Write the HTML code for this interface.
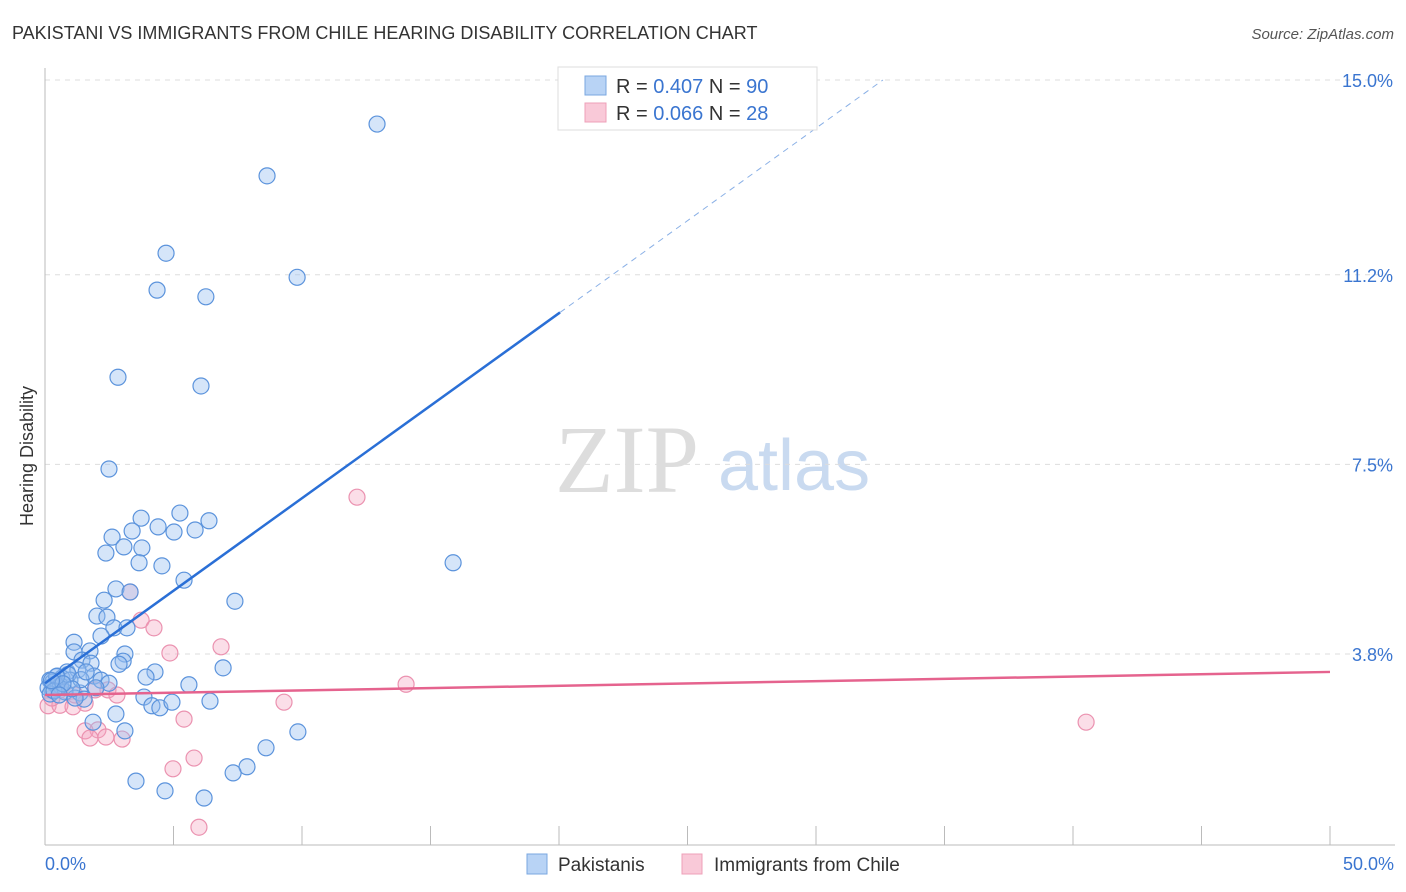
<!DOCTYPE html>
<html><head><meta charset="utf-8"><style>
body{margin:0;background:#fff;font-family:"Liberation Sans",sans-serif;}
svg{display:block}
</style></head><body>
<svg id="chart" width="1406" height="892" xmlns="http://www.w3.org/2000/svg">
<text x="12" y="39" font-size="18" fill="#333">PAKISTANI VS IMMIGRANTS FROM CHILE HEARING DISABILITY CORRELATION CHART</text>
<text x="1394" y="39" font-size="15" fill="#555" font-style="italic" text-anchor="end">Source: ZipAtlas.com</text>
<g>
<text x="555" y="492" font-size="96" font-family="Liberation Serif,serif" fill="#ddd">ZIP</text>
<text x="718" y="490" font-size="72" fill="#c9daf0">atlas</text>
</g>
<g id="grid"></g>
<g id="axes"></g>
<text x="33" y="456" font-size="18" fill="#333" text-anchor="middle" transform="rotate(-90 33 456)">Hearing Disability</text>
<g id="marks"></g>
<g>
<rect x="558" y="67" width="259" height="63" fill="#fff" stroke="#ddd"/>
<rect x="585" y="76" width="21" height="19" fill="#b8d3f5" stroke="#7aa7e0"/>
<rect x="585" y="103" width="21" height="19" fill="#f9c9d8" stroke="#eea0b8"/>
<text x="616" y="93" font-size="20" fill="#333">R = <tspan fill="#3a75d0">0.407</tspan>   N = <tspan fill="#3a75d0">90</tspan></text>
<text x="616" y="120" font-size="20" fill="#333">R = <tspan fill="#3a75d0">0.066</tspan>   N =  <tspan fill="#3a75d0">28</tspan></text>
</g>
<g>
<rect x="527" y="854" width="20" height="20" fill="#b8d3f5" stroke="#7aa7e0"/>
<text x="558" y="871" font-size="19" fill="#333">Pakistanis</text>
<rect x="682" y="854" width="20" height="20" fill="#f9c9d8" stroke="#eea0b8"/>
<text x="714" y="871" font-size="19" fill="#333">Immigrants from Chile</text>
</g>
</svg>
<script>
const yTicks=[3.8,7.5,11.2,15.0];
const yTickLabels=["3.8%","7.5%","11.2%","15.0%"];
const xTickLabels=["0.0%","50.0%"];
const blueX=[12.92,8.64,4.71,9.81,4.36,6.26,2.84,6.07,2.49,15.88,7.39,3.74,5.25,6.38,3.39,4.40,5.02,5.84,2.61,3.07,3.77,2.37,3.66,4.55,5.41,2.76,3.31,2.30,2.02,2.41,2.68,3.19,2.18,1.13,1.13,1.75,3.11,3.04,2.88,1.44,1.79,0.86,0.47,0.19,0.39,0.66,1.28,1.91,2.18,4.28,3.93,6.93,2.49,5.60,1.98,1.36,1.52,3.85,4.16,4.47,4.94,6.42,2.76,1.87,3.11,9.84,8.60,7.86,7.32,3.54,4.67,6.19,0.27,0.12,0.51,0.97,0.78,1.17,0.30,0.60,0.90,1.40,0.20,0.45,1.05,0.35,0.70,1.60,0.25,0.55];
const blueY=[14.14,13.13,11.62,11.15,10.90,10.77,9.20,9.03,7.41,5.58,4.83,6.45,6.55,6.40,6.20,6.28,6.18,6.22,6.08,5.89,5.87,5.77,5.58,5.52,5.24,5.07,5.01,4.85,4.54,4.52,4.31,4.31,4.15,4.03,3.84,3.86,3.80,3.66,3.60,3.68,3.62,3.45,3.37,3.29,3.21,3.33,3.49,3.37,3.29,3.45,3.35,3.53,3.23,3.20,3.14,3.04,2.92,2.96,2.79,2.75,2.86,2.88,2.63,2.47,2.30,2.28,1.97,1.60,1.48,1.32,1.13,0.99,3.10,3.14,3.14,3.29,3.06,2.94,3.25,3.18,3.40,3.30,3.02,3.36,3.12,3.08,3.22,3.45,3.28,3.00];
const pinkX=[12.14,3.31,3.74,4.24,6.85,4.86,2.45,1.95,2.80,14.05,9.30,0.12,0.58,1.09,1.56,2.06,1.56,1.75,2.37,3.00,5.41,40.51,5.80,4.98,5.99,0.58,0.27,1.17];
const pinkY=[6.86,5.01,4.46,4.31,3.94,3.82,3.10,3.10,3.00,3.21,2.86,2.79,2.80,2.77,2.84,2.32,2.30,2.16,2.18,2.14,2.53,2.47,1.77,1.56,0.42,3.10,2.94,3.00];
const blueLine=[3.23,0.361]; // intercept, slope
const pinkLine=[3.0,0.009];
const X0=45,X1=1330,XMAX=50;
const sx=v=>X0+v*(X1-X0)/XMAX;
const sy=v=>80+(15-v)*51.25;
const NS="http://www.w3.org/2000/svg";
function mk(tag,attrs,parent){const e=document.createElementNS(NS,tag);for(const k in attrs)e.setAttribute(k,attrs[k]);parent.appendChild(e);return e;}
const grid=document.getElementById('grid'),axes=document.getElementById('axes'),marks=document.getElementById('marks');
yTicks.forEach((t,i)=>{
 const l=mk('line',{x1:45,x2:1395,y1:sy(t),y2:sy(t),stroke:'#ddd','stroke-dasharray':'5,5'},grid);
 
 
 const tx=mk('text',{x:1393,y:sy(t)+7,'font-size':18,fill:'#3a75d0','text-anchor':'end'},axes);
 tx.textContent=yTickLabels[i];
 
 
});
const ax=mk('line',{x1:45,x2:1395,y1:845,y2:845,stroke:'#bbb'},axes);


const ay=mk('line',{x1:45,x2:45,y1:68,y2:845,stroke:'#bbb'},axes);


for(let i=0;i<=10;i++){
 const t=mk('line',{x1:sx(i*5),x2:sx(i*5),y1:826,y2:845,stroke:'#bbb'},axes);
 
 
}
[[0,'start',45],[XMAX,'end',1394]].forEach((p,i)=>{
 const t=mk('text',{x:p[2],y:870,'font-size':18,fill:'#3a75d0','text-anchor':p[1]},axes);
 t.textContent=xTickLabels[i];
 
 
});
pinkX.forEach((x,i)=>{
 const c=mk('circle',{cx:sx(x),cy:sy(pinkY[i]),r:8,fill:'rgba(244,160,188,0.35)',stroke:'#eb92b0','stroke-width':1.2},marks);
 
 
});
blueX.forEach((x,i)=>{
 const c=mk('circle',{cx:sx(x),cy:sy(blueY[i]),r:8,fill:'rgba(150,190,240,0.4)',stroke:'#5b93dc','stroke-width':1.2},marks);
 
 
});
const bx2=20.04,bxEnd=(15-blueLine[0])/blueLine[1];
const bl=mk('line',{x1:sx(0),y1:sy(blueLine[0]),x2:sx(bx2),y2:sy(blueLine[0]+blueLine[1]*bx2),stroke:'#2a6fd6','stroke-width':2.5},marks);


const bd=mk('line',{x1:sx(bx2),y1:sy(blueLine[0]+blueLine[1]*bx2),x2:sx(bxEnd),y2:sy(15),stroke:'#8ab0e6','stroke-width':1,'stroke-dasharray':'6,5'},marks);


const pl=mk('line',{x1:sx(0),y1:sy(pinkLine[0]),x2:sx(XMAX),y2:sy(pinkLine[0]+pinkLine[1]*XMAX),stroke:'#e5638e','stroke-width':2.5},marks);


</script>
</body></html>
